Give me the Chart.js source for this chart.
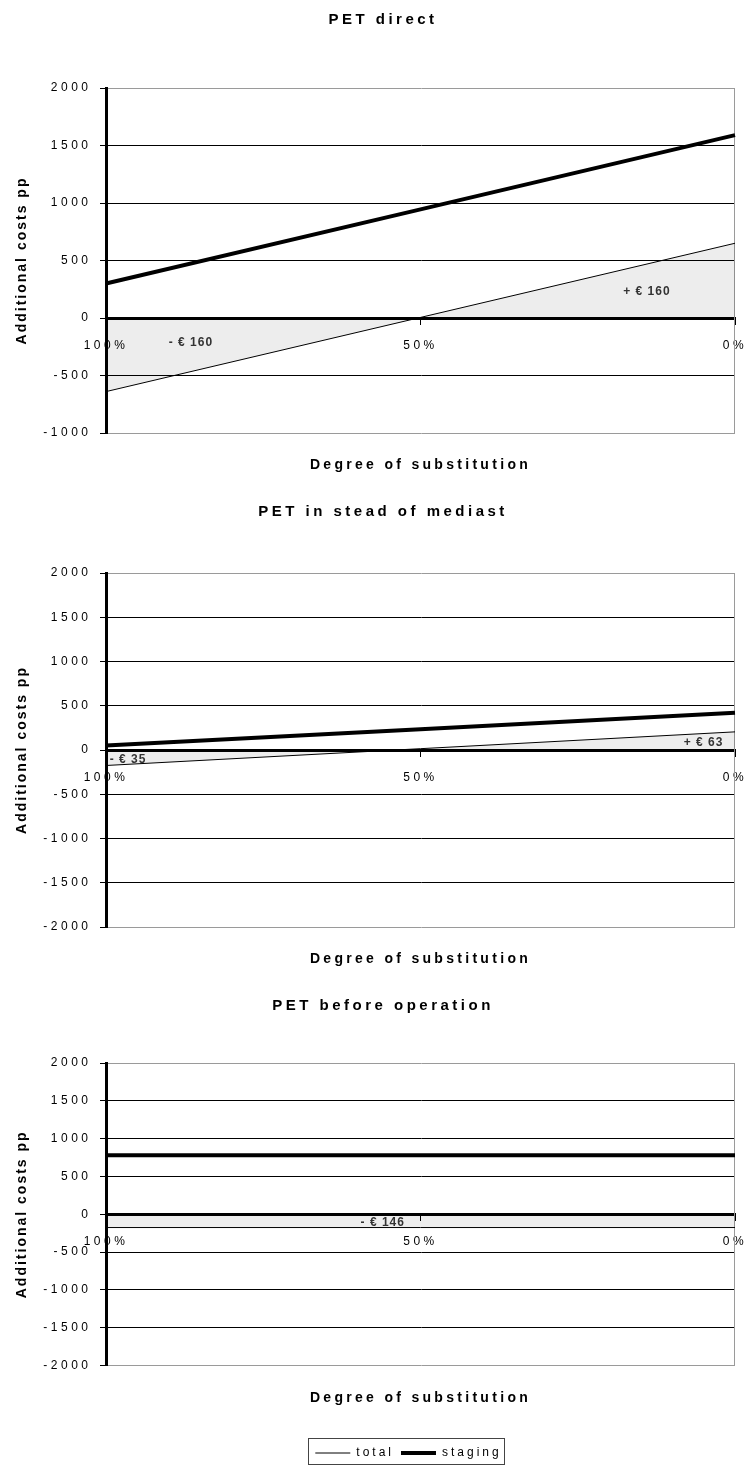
<!DOCTYPE html>
<html>
<head>
<meta charset="utf-8">
<script src="https://cdn.jsdelivr.net/npm/chart.js@4/dist/chart.umd.min.js"></script>
<style>
  html, body { margin: 0; padding: 0; background: #fff; overflow: hidden; }
  body { width: 744px; height: 1466px; position: relative; }
  canvas { position: absolute; left: 0; display: block; }
</style>
</head>
<body>
<canvas id="c1" width="744" height="483" style="top:0px"></canvas>
<canvas id="c2" width="744" height="494" style="top:483px"></canvas>
<canvas id="c3" width="744" height="492" style="top:977px"></canvas>
<script>
// Degree of substitution, left to right
const categories = ['100%', '50%', '0%'];

const panelTitles = ['PET direct', 'PET in stead of mediast', 'PET before operation'];
const xAxisTitle = 'Degree of substitution';
const yAxisTitle = 'Additional costs pp';
const seriesNames = ['total', 'staging'];

// Additional costs per person (EUR)
const directTotal = [-640, 5, 650];
const directStaging = [300, 945, 1590];
const mediastTotal = [-175, 15, 205];
const mediastStaging = [50, 235, 420];
const operationTotal = [-175, -175, -175];
const operationStaging = [780, 780, 780];

// Value-axis ranges and tick step
const directRange = [-1000, 2000];
const fullRange = [-2000, 2000];
const tickStep = 500;

// Net balance labels written inside the shaded areas
const directNotes = ['- € 160', '+ € 160'];
const mediastNotes = ['- € 35', '+ € 63'];
const operationNotes = ['- € 146'];

const FONT = '"Liberation Sans", Arial, Helvetica, sans-serif';
Chart.defaults.font.family = FONT;
Chart.defaults.color = '#000';

// letter spacing used by each kind of text
const SPACING = { title: '3.5px', subtitle: '3.3px', axisTitle: '2px', ticks: '3.5px', legend: '3px', note: '1px' };
// horizontal centre of the panel headings and of the legend
const HEADING_CENTER = 383;
const LEGEND_SHIFT = -12;

// wraps each layout box so its text is drawn with its own tracking
const tracking = {
  id: 'tracking',
  beforeLayout(chart) {
    const ctx = chart.ctx;
    chart.boxes.forEach(b => {
      if (b._tracked) return;
      b._tracked = true;
      if (b.axis) {
        const dl = b.drawLabels, dt = b.drawTitle;
        b.drawLabels = function (a) { ctx.letterSpacing = SPACING.ticks; dl.call(this, a); ctx.letterSpacing = '0px'; };
        b.drawTitle = function (a) { ctx.letterSpacing = SPACING.axisTitle; dt.call(this, a); ctx.letterSpacing = '0px'; };
      } else {
        let sp = SPACING.title;
        if (b === chart.legend) sp = SPACING.legend;
        else if (b.options && b.options.position === 'bottom') sp = SPACING.subtitle;
        const d = b.draw, f = b.fit;
        b.draw = function (a) { ctx.letterSpacing = sp; d.call(this, a); ctx.letterSpacing = '0px'; };
        if (f) b.fit = function () { ctx.letterSpacing = sp; f.call(this); ctx.letterSpacing = '0px'; };
      }
    });
  },
  afterLayout(chart) {
    const t = chart.titleBlock;
    if (t) {
      const half = (t.right - t.left) / 2;
      t.left = HEADING_CENTER - half;
      t.right = HEADING_CENTER + half;
    }
    const lg = chart.legend;
    if (lg && chart.options.plugins.legend.display) {
      lg.left += LEGEND_SHIFT;
      lg.right += LEGEND_SHIFT;
    }
  }
};

// thin grey right edge of the plot frame
const frameEdge = {
  id: 'frameEdge',
  beforeDatasetsDraw(chart) {
    const { ctx, chartArea: a } = chart;
    ctx.save();
    ctx.strokeStyle = '#9a9a9a';
    ctx.lineWidth = 1;
    ctx.beginPath();
    ctx.moveTo(Math.round(a.right) - 0.5, a.top);
    ctx.lineTo(Math.round(a.right) - 0.5, a.bottom);
    ctx.stroke();
    ctx.restore();
  }
};

// balance labels placed in data coordinates
const notes = {
  id: 'notes',
  afterDatasetsDraw(chart, args, opts) {
    const { ctx } = chart;
    const x = chart.scales.x, y = chart.scales.y;
    ctx.save();
    ctx.letterSpacing = SPACING.note;
    ctx.font = 'bold 12px ' + FONT;
    ctx.fillStyle = '#333';
    ctx.textAlign = 'center';
    ctx.textBaseline = 'middle';
    (opts.items || []).forEach(n => {
      ctx.fillText(n.text, x.getPixelForValue(n.at[0]), y.getPixelForValue(n.at[1]));
    });
    ctx.letterSpacing = '0px';
    ctx.restore();
  }
};

// border round the legend
const legendFrame = {
  id: 'legendFrame',
  afterDraw(chart) {
    const lg = chart.legend;
    if (!lg || !chart.options.plugins.legend.display || !lg.legendHitBoxes.length) return;
    let l = Infinity, r = -Infinity, t = Infinity, b = -Infinity;
    lg.legendHitBoxes.forEach(h => {
      l = Math.min(l, h.left); r = Math.max(r, h.left + h.width);
      t = Math.min(t, h.top); b = Math.max(b, h.top + h.height);
    });
    const { ctx } = chart;
    ctx.save();
    ctx.strokeStyle = '#444';
    ctx.lineWidth = 1;
    ctx.strokeRect(Math.round(l - 7) + 0.5, Math.round(t - 9) + 0.5, Math.round(r - l + 10), Math.round(b - t + 14));
    ctx.restore();
  }
};

function makePanel(id, title, total, staging, range, noteItems, layout) {
  const [yMin, yMax] = range;
  return new Chart(document.getElementById(id), {
    type: 'line',
    data: {
      labels: categories,
      datasets: [
        {
          label: seriesNames[0],
          data: total,
          borderColor: '#000',
          borderWidth: 1,
          backgroundColor: 'rgba(0,0,0,0.07)',
          fill: 'origin',
          pointRadius: 0,
          tension: 0
        },
        {
          label: seriesNames[1],
          data: staging,
          borderColor: '#000',
          borderWidth: 4,
          backgroundColor: '#000',
          fill: false,
          pointRadius: 0,
          tension: 0
        }
      ]
    },
    options: {
      responsive: false,
      animation: false,
      events: [],
      layout: { padding: { left: 0, right: 9, top: 0, bottom: 0 } },
      scales: {
        x: {
          position: { y: 0 },
          offset: false,
          ticks: { padding: 15, color: '#000', font: { size: 12 }, maxRotation: 0, autoSkip: false },
          grid: { drawOnChartArea: false, drawTicks: true, tickLength: 5, color: '#000', offset: false },
          border: { display: true, color: '#000', width: 3 },
          afterFit(scale) { scale.paddingLeft = 0; scale.paddingRight = 0; }
        },
        y: {
          min: yMin,
          max: yMax,
          ticks: { stepSize: tickStep, padding: 8.5, color: '#000', font: { size: 12 }, callback: v => String(v) },
          grid: {
            color: c => (c.tick && (c.tick.value === yMax || c.tick.value === yMin)) ? '#9a9a9a' : '#000',
            lineWidth: 1,
            drawTicks: true,
            tickLength: 6,
            tickColor: '#000'
          },
          border: { display: true, color: '#000', width: 3 },
          title: {
            display: true,
            text: yAxisTitle,
            color: '#000',
            font: { size: 14, weight: 'bold', lineHeight: 1.2 },
            padding: { top: 13.6, bottom: 0 }
          },
          afterFit(scale) { scale.width = 106; }
        }
      },
      plugins: {
        tooltip: { enabled: false },
        title: {
          display: true,
          text: title,
          color: '#000',
          font: { size: 15, weight: 'bold', lineHeight: 1.2 },
          padding: layout.titlePad
        },
        subtitle: {
          display: true,
          position: 'bottom',
          text: xAxisTitle,
          fullSize: false,
          color: '#000',
          font: { size: 14, weight: 'bold', lineHeight: 1.2 },
          padding: layout.subPad
        },
        legend: {
          display: layout.legend,
          position: 'bottom',
          fullSize: false,
          weight: 1800,
          labels: {
            usePointStyle: true,
            pointStyle: 'line',
            pointStyleWidth: 35,
            padding: 7,
            color: '#000',
            font: { size: 12 }
          }
        },
        notes: { items: noteItems }
      }
    },
    plugins: [tracking, frameEdge, notes, legendFrame]
  });
}

makePanel('c1', panelTitles[0], directTotal, directStaging, directRange,
  [{ text: directNotes[0], at: [0.27, -215] }, { text: directNotes[1], at: [1.72, 225] }],
  { titlePad: { top: 11, bottom: 59 }, subPad: { top: 23.6, bottom: 9.6 }, legend: false });

makePanel('c2', panelTitles[1], mediastTotal, mediastStaging, fullRange,
  [{ text: mediastNotes[0], at: [0.07, -115] }, { text: mediastNotes[1], at: [1.9, 80] }],
  { titlePad: { top: 20, bottom: 52 }, subPad: { top: 23.6, bottom: 9.6 }, legend: false });

makePanel('c3', panelTitles[2], operationTotal, operationStaging, fullRange,
  [{ text: operationNotes[0], at: [0.88, -112] }],
  { titlePad: { top: 20, bottom: 48 }, subPad: { top: 24.6, bottom: 33 }, legend: true });
</script>
</body>
</html>
